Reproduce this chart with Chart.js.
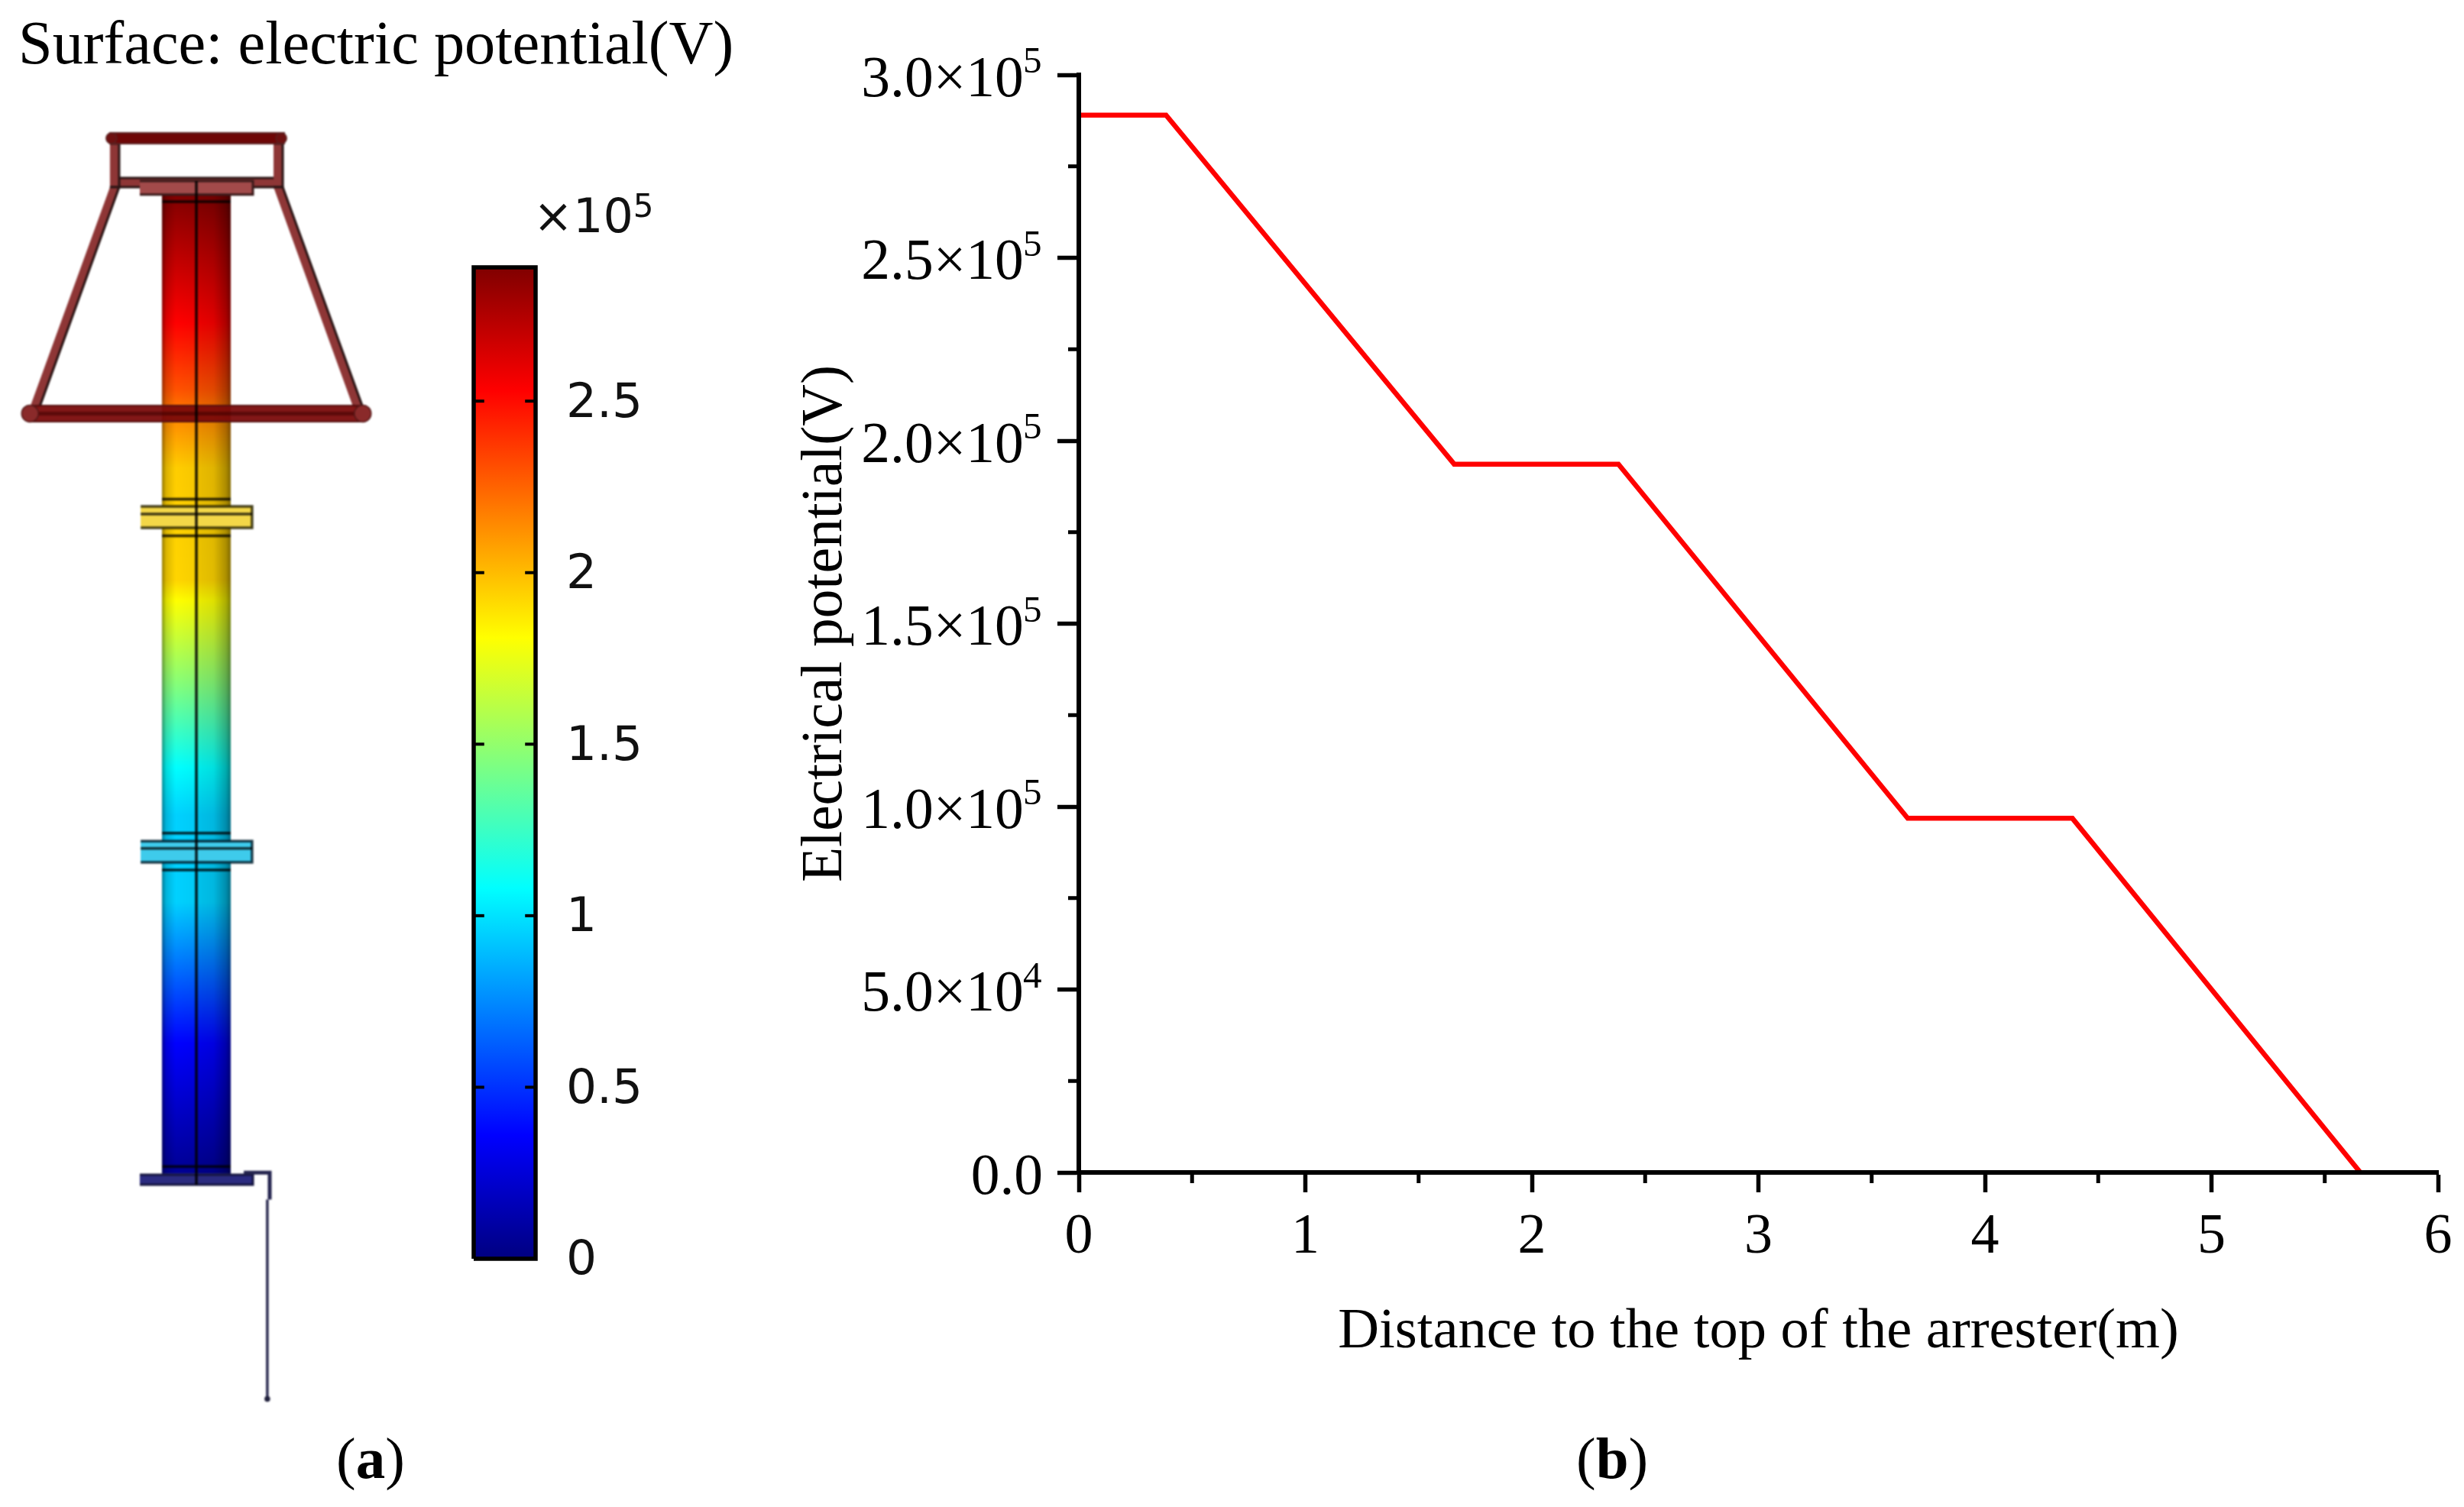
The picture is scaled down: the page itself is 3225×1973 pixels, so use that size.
<!DOCTYPE html>
<html>
<head>
<meta charset="utf-8">
<script src="https://cdn.jsdelivr.net/npm/chart.js@4/dist/chart.umd.js"></script>
<style>
  html, body { margin: 0; padding: 0; background: #fff; }
  body { width: 3225px; height: 1973px; position: relative; overflow: hidden; }
  canvas { position: absolute; top: 0; }
  #modelChart { left: 0; filter: blur(0.8px); }
  #barChart { left: 560px; filter: blur(0.6px); }
  #lineChart { left: 980px; }
  .txt { position: absolute; white-space: nowrap; font-family: "Liberation Serif", serif; color: #000; line-height: 1; }
</style>
</head>
<body>
<canvas id="modelChart" width="600" height="1973"></canvas>
<canvas id="barChart" width="400" height="1973"></canvas>
<canvas id="lineChart" width="2245" height="1973"></canvas>
<div class="txt" style="left:24px;top:16px;font-size:80.3px;">Surface: electric potential(V)</div>
<div class="txt" style="left:698px;top:252px;font-size:62px;font-family:'DejaVu Sans';color:#111;">×10<sup style="font-size:42px;vertical-align:20px;line-height:0;">5</sup></div>
<div class="txt" style="left:440px;top:1871px;font-size:77px;">(<b>a</b>)</div>
<div class="txt" style="left:2063px;top:1871px;font-size:77px;">(<b>b</b>)</div>
<script>
// panel (b) data, distance in m and potential in V
const distance = [0, 0.385, 1.657, 2.382, 3.659, 4.386, 5.657];
const potential = [289000, 289000, 193600, 193600, 96800, 96800, 0];
const yTickLabels = ['0.0', '5.0×10', '1.0×10', '1.5×10', '2.0×10', '2.5×10', '3.0×10'];
const yTickPowers = ['', '4', '5', '5', '5', '5', '5'];
const xTickLabels = ['0', '1', '2', '3', '4', '5', '6'];
const yMinorTicks = [25000, 75000, 125000, 175000, 225000, 275000];
const xMinorTicks = [0.5, 1.5, 2.5, 3.5, 4.5, 5.5];

// colour bar, potential in 10^5 V
const barTicks = [0, 0.5, 1, 1.5, 2, 2.5];
const barMax = 2.89;
const jetValues = [0, 0.36, 1.08, 1.81, 2.53, 2.89];
const jetColors = [[0, 0, 128], [0, 0, 255], [0, 255, 255], [255, 255, 0], [255, 0, 0], [128, 0, 0]];

// arrester model in metres: x from the axis, y down from the top ring
const cylinderDepth = [0.33, 1.03, 1.39, 1.58, 1.82, 2.43, 2.54, 3.01, 3.45, 3.71, 4.18, 4.95, 5.66];
const cylinderVolts = [2.89, 2.53, 2.30, 2.12, 1.95, 1.93, 1.81, 1.45, 1.08, 0.95, 0.95, 0.36, 0.05];
const cylinderEdge = [-0.187, 0.187];
const cylinderRange = [0.33, 5.66];
const cylinderBands = [0.370, 1.989, 2.188, 3.806, 4.007, 5.62];
const flangeBands = [2.070, 3.889];
const shadeStops = [0, 0.06, 0.2, 0.48, 0.52, 0.75, 0.93, 1];
const shadeAlpha = [0.42, 0.14, 0, 0.03, 0.08, 0.12, 0.32, 0.5];

const topRing = [[-0.474, -0.004], [0.478, -0.004], [0.478, 0.054], [-0.474, 0.054]];
const postLeft = [[-0.470, 0.054], [-0.420, 0.054], [-0.420, 0.291], [-0.470, 0.291]];
const postRight = [[0.420, 0.054], [0.470, 0.054], [0.470, 0.291], [0.420, 0.291]];
const crossBar = [[-0.440, 0.241], [0.440, 0.241], [0.440, 0.291], [-0.440, 0.291]];
const coneLeft = [[-0.470, 0.291], [-0.420, 0.291], [-0.850, 1.480], [-0.905, 1.488]];
const coneRight = [[0.420, 0.291], [0.470, 0.291], [0.905, 1.488], [0.850, 1.480]];
const topPlate = [[-0.3075, 0.258], [0.3075, 0.258], [0.3075, 0.332], [-0.3075, 0.332]];
const lowerRing = [[-0.915, 1.480], [0.915, 1.480], [0.915, 1.567], [-0.915, 1.567]];
const lowerRingEnds = [[-0.905, 1.523], [0.905, 1.523]];
const topRingEnds = [[-0.462, 0.025], [0.462, 0.025]];
const flangeUpper = [[-0.303, 2.028], [0.303, 2.028], [0.303, 2.145], [-0.303, 2.145]];
const flangeLower = [[-0.303, 3.850], [0.303, 3.850], [0.303, 3.965], [-0.303, 3.965]];
const bottomPlate = [[-0.3075, 5.665], [0.3075, 5.665], [0.3075, 5.719], [-0.3075, 5.719]];
const centreLine = [[0, 0.258], [0, 5.719]];
const wireTop = [[0.258, 5.654], [0.399, 5.654], [0.399, 5.80]];
const wireDown = [[0.386, 5.80], [0.386, 6.885]];
const wireEnd = [[0.386, 6.885]];

function toXY(list) {
  return list.map(p => ({ x: p[0], y: p[1] }));
}

// colour for a potential on the bar
function jet(v) {
  let i = 0;
  while (i < jetValues.length - 2 && v > jetValues[i + 1]) i++;
  const t = Math.min(1, Math.max(0, (v - jetValues[i]) / (jetValues[i + 1] - jetValues[i])));
  const c = jetColors[i].map((a, k) => Math.round(a + (jetColors[i + 1][k] - a) * t));
  return `rgb(${c[0]},${c[1]},${c[2]})`;
}

// scales have no pixel range on the very first option pass
function cylinderGradient(context) {
  const chart = context.chart;
  const y = chart.scales.y;
  const first = cylinderDepth[0];
  const last = cylinderDepth[cylinderDepth.length - 1];
  const y0 = y ? y.getPixelForValue(first) : NaN;
  const y1 = y ? y.getPixelForValue(last) : NaN;
  if (!isFinite(y0) || !isFinite(y1)) return '#888';
  const grad = chart.ctx.createLinearGradient(0, y0, 0, y1);
  cylinderDepth.forEach((d, i) => grad.addColorStop((d - first) / (last - first), jet(cylinderVolts[i])));
  return grad;
}

function shadeGradient(context) {
  const chart = context.chart;
  const x = chart.scales.x;
  const x0 = x ? x.getPixelForValue(cylinderEdge[0]) : NaN;
  const x1 = x ? x.getPixelForValue(cylinderEdge[1]) : NaN;
  if (!isFinite(x0) || !isFinite(x1)) return 'rgba(0,0,0,0)';
  const grad = chart.ctx.createLinearGradient(x0, 0, x1, 0);
  shadeStops.forEach((s, i) => grad.addColorStop(s, `rgba(0,0,0,${shadeAlpha[i]})`));
  return grad;
}

function area(list, fillColor, edge, edgeWidth) {
  return { data: toXY(list), showLine: true, fill: 'shape', backgroundColor: fillColor, borderColor: edge, borderWidth: edgeWidth, pointRadius: 0, tension: 0 };
}
function stroke(list, color, width) {
  return { data: toXY(list), showLine: true, fill: false, borderColor: color, borderWidth: width, pointRadius: 0, tension: 0 };
}
function dots(list, color, radius, edge) {
  return { data: toXY(list), showLine: false, pointRadius: radius, pointBackgroundColor: color, pointBorderColor: edge, pointBorderWidth: 1.5 };
}

// listed bottom to top
const cylinderShape = [[cylinderEdge[0], cylinderRange[0]], [cylinderEdge[1], cylinderRange[0]], [cylinderEdge[1], cylinderRange[1]], [cylinderEdge[0], cylinderRange[1]]];
const layers = [
  area(cylinderShape, cylinderGradient, 'rgba(0,0,0,0)', 0),
  area(cylinderShape, shadeGradient, 'rgba(0,0,0,0)', 0)
];
cylinderBands.forEach(d => layers.push(stroke([[cylinderEdge[0], d], [cylinderEdge[1], d]], 'rgba(0,0,0,0.8)', 3.5)));
layers.push(
  area(flangeUpper, '#f3d748', 'rgba(40,35,0,0.85)', 3.5),
  area(flangeLower, '#3ecbeb', 'rgba(0,30,45,0.85)', 3.5),
  area(bottomPlate, '#2b2b80', '#15153f', 3)
);
flangeBands.forEach(d => layers.push(stroke([[-0.303, d], [0.303, d]], 'rgba(0,0,0,0.75)', 3.5)));
layers.push(
  area(crossBar, '#8e3636', '#2a1414', 3),
  area(postLeft, '#8e3636', '#2a1414', 3),
  area(postRight, '#8e3636', '#2a1414', 3),
  area(coneLeft, '#8e3636', '#2a1414', 3),
  area(coneRight, '#8e3636', '#2a1414', 3),
  area(topPlate, '#a24a4a', '#3a1a1a', 3),
  area(topRing, '#6e0606', '#5a2020', 2),
  dots(topRingEnds, '#6e1010', 7, '#5a2020'),
  area(lowerRing, 'rgba(122,8,8,0.94)', '#551010', 2),
  stroke([[-0.915, 1.523], [0.915, 1.523]], 'rgba(60,0,0,0.55)', 5),
  dots(lowerRingEnds, '#8a2a2a', 11, '#551818'),
  stroke(centreLine, 'rgba(0,0,0,0.88)', 3.5),
  stroke(wireTop, '#24244e', 5),
  stroke(wireDown, '#2a2a50', 3.5),
  dots(wireEnd, '#20203c', 3, '#20203c')
);
layers.forEach((d, i) => { d.order = -i; });

const modelChart = new Chart(document.getElementById('modelChart'), {
  type: 'scatter',
  data: { datasets: layers },
  options: {
    responsive: false,
    animation: false,
    layout: { padding: 0, autoPadding: false },
    plugins: { legend: { display: false }, tooltip: { enabled: false } },
    scales: {
      x: { type: 'linear', display: false, min: -1.0682, max: 1.4256 },
      y: { type: 'linear', display: false, reverse: true, min: -0.7273, max: 7.473 }
    }
  }
});
modelChart.update();

// colour bar chart
function barGradient(context) {
  const chart = context.chart;
  const y = chart.scales.y;
  const y0 = y ? y.getPixelForValue(0) : NaN;
  const y1 = y ? y.getPixelForValue(barMax) : NaN;
  if (!isFinite(y0) || !isFinite(y1)) return '#888';
  const grad = chart.ctx.createLinearGradient(0, y0, 0, y1);
  jetValues.forEach((v, i) => grad.addColorStop(v / barMax, `rgb(${jetColors[i].join(',')})`));
  return grad;
}
const barSets = [area([[0, 0], [1, 0], [1, barMax], [0, barMax], [0, 0]], barGradient, '#000', 5.5)];
barTicks.filter(v => v > 0).forEach(v => {
  barSets.push(stroke([[0, v], [0.17, v]], '#000', 4));
  barSets.push(stroke([[0.83, v], [1, v]], '#000', 4));
});
barSets.forEach((d, i) => { d.order = -i; d.clip = false; });

const barChart = new Chart(document.getElementById('barChart'), {
  type: 'scatter',
  data: { datasets: barSets },
  options: {
    responsive: false,
    animation: false,
    layout: { padding: { left: 60, right: 0, top: 350, bottom: 325 }, autoPadding: false },
    plugins: { legend: { display: false }, tooltip: { enabled: false } },
    scales: {
      x: { type: 'linear', display: false, min: 0, max: 1 },
      y: {
        type: 'linear',
        position: 'right',
        min: 0,
        max: barMax,
        afterFit: s => { s.width = 259; },
        afterBuildTicks: s => { s.ticks = barTicks.map(v => ({ value: v })); },
        border: { display: false },
        grid: { display: false },
        ticks: { padding: 32, labelOffset: 4, color: '#111', font: { family: 'DejaVu Sans', size: 63 }, callback: v => String(v) }
      }
    }
  }
});
barChart.update();

// minor ticks and tick exponents are not available on the axes, so draw them from the scales
const axisExtras = {
  id: 'axisExtras',
  afterDraw(chart) {
    const ctx = chart.ctx;
    const { x, y } = chart.scales;
    ctx.save();
    ctx.fillStyle = '#000';
    yMinorTicks.forEach(v => ctx.fillRect(x.left - 14, y.getPixelForValue(v) - 2.5, 12, 5));
    xMinorTicks.forEach(v => ctx.fillRect(x.getPixelForValue(v) - 2.5, y.bottom + 2, 5, 12));
    ctx.font = '49px "Liberation Serif"';
    ctx.textAlign = 'right';
    ctx.textBaseline = 'alphabetic';
    y.ticks.forEach((t, i) => {
      if (yTickPowers[i]) ctx.fillText(yTickPowers[i], x.left - 48.5, y.getPixelForValue(t.value) - 3);
    });
    ctx.restore();
  }
};

new Chart(document.getElementById('lineChart'), {
  type: 'scatter',
  data: {
    datasets: [{
      data: distance.map((d, i) => ({ x: d, y: potential[i] })),
      showLine: true,
      borderColor: '#ff0000',
      borderWidth: 6.5,
      pointRadius: 0,
      tension: 0,
      borderJoinStyle: 'miter'
    }]
  },
  options: {
    responsive: false,
    animation: false,
    layout: { padding: { left: 0, right: 34, top: 98, bottom: 0 }, autoPadding: false },
    plugins: { legend: { display: false }, tooltip: { enabled: false } },
    scales: {
      x: {
        type: 'linear',
        z: 1,
        min: 0,
        max: 6,
        afterFit: s => { s.height = 438; },
        border: { display: true, width: 6, color: '#000', z: 1 },
        grid: { z: 1, drawOnChartArea: false, drawTicks: true, tickLength: 26, tickWidth: 5.5, tickColor: '#000' },
        ticks: { stepSize: 1, padding: 15, maxRotation: 0, color: '#000', font: { family: 'Liberation Serif', size: 74 }, callback: (v, i) => xTickLabels[i] },
        title: { display: true, text: 'Distance to the top of the arrester(m)', color: '#000', font: { family: 'Liberation Serif', size: 74.5 }, padding: { top: 0, bottom: 184 } }
      },
      y: {
        type: 'linear',
        z: 1,
        min: 0,
        max: 300000,
        afterFit: s => { s.width = 432; },
        border: { display: true, width: 6, color: '#000', z: 1 },
        grid: { z: 1, drawOnChartArea: false, drawTicks: true, tickLength: 28, tickWidth: 5.5, tickColor: '#000' },
        // trailing space leaves room for the exponent
        ticks: { stepSize: 50000, padding: 19, labelOffset: 8, color: '#000', font: { family: 'Liberation Serif', size: 75.5 }, callback: (v, i) => yTickLabels[i] + (yTickPowers[i] ? '\u2004' : '') },
        title: { display: true, text: 'Electrical potential(V)', color: '#000', font: { family: 'Liberation Serif', size: 75.5 }, padding: { top: 56, bottom: 0 } }
      }
    }
  },
  plugins: [axisExtras]
});
</script>
</body>
</html>
